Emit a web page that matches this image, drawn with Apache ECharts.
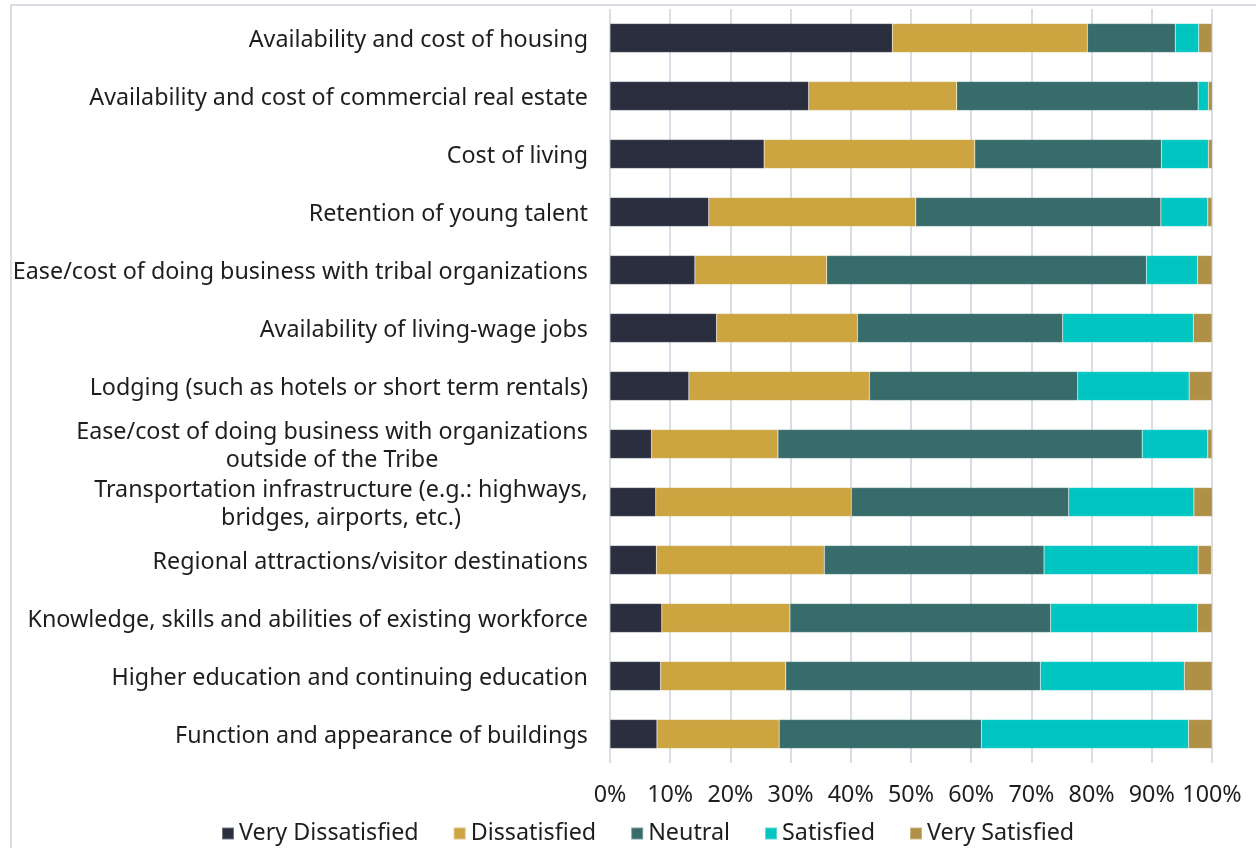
<!DOCTYPE html>
<html>
<head>
<meta charset="utf-8">
<script src="https://cdn.jsdelivr.net/npm/echarts@6/dist/echarts.min.js"></script>
<style>
  html, body { margin: 0; padding: 0; background: #fff; }
  #main { width: 1256px; height: 848px; }
</style>
</head>
<body>
<div id="main"></div>
<script>
// categories, top to bottom
var categories = [
  'Availability and cost of housing',
  'Availability and cost of commercial real estate',
  'Cost of living',
  'Retention of young talent',
  'Ease/cost of doing business with tribal organizations',
  'Availability of living-wage jobs',
  'Lodging (such as hotels or short term rentals)',
  'Ease/cost of doing business with organizations\noutside of the Tribe',
  'Transportation infrastructure (e.g.: highways,\nbridges, airports, etc.)',
  'Regional attractions/visitor destinations',
  'Knowledge, skills and abilities of existing workforce',
  'Higher education and continuing education',
  'Function and appearance of buildings'
]

var veryDissatisfied = [46.9, 33.0, 25.6, 16.4, 14.1, 17.7, 13.1, 6.9, 7.6, 7.7, 8.6, 8.4, 7.8]
var dissatisfied     = [32.4, 24.6, 35.0, 34.4, 21.9, 23.4, 30.0, 21.0, 32.5, 27.9, 21.3, 20.8, 20.3]
var neutral          = [14.6, 40.1, 31.0, 40.7, 53.1, 34.1, 34.6, 60.5, 36.1, 36.5, 43.3, 42.3, 33.6]
var satisfied        = [3.9, 1.7, 7.8, 7.8, 8.5, 21.7, 18.5, 10.9, 20.8, 25.6, 24.4, 23.9, 34.4]
var verySatisfied    = [2.2, 0.7, 0.7, 0.7, 2.4, 3.1, 3.8, 0.7, 3.1, 2.2, 2.4, 4.6, 3.9]

var seriesNames = ['Very Dissatisfied', 'Dissatisfied', 'Neutral', 'Satisfied', 'Very Satisfied']
var seriesData = [veryDissatisfied, dissatisfied, neutral, satisfied, verySatisfied]
var colors = ['#2a2e3f', '#cca540', '#386c6b', '#00c5c0', '#b08f46']

var FONT = '"Noto Sans", sans-serif'
var FONT_SIZE = 23.3
var TEXT = '#1e1e1e'

// wrapped labels: each line centred inside a box as wide as its longest line
var ctx = document.createElement('canvas').getContext('2d')
ctx.font = FONT_SIZE + 'px ' + FONT
var rich = {}
categories.forEach(function (c, i) {
  if (c.indexOf('\n') < 0) return
  var w = Math.max.apply(null, c.split('\n').map(function (l) { return ctx.measureText(l).width }))
  rich['c' + i] = {
    fontFamily: FONT, fontSize: FONT_SIZE, lineHeight: 28, color: TEXT,
    align: 'center', width: Math.ceil(w)
  }
})

var chart = echarts.init(document.getElementById('main'))

var option = {
  animation: false,
  graphic: [
    { type: 'line', shape: { x1: 10, y1: 5, x2: 1256, y2: 5 }, style: { stroke: '#dadce6', lineWidth: 2 } },
    { type: 'line', shape: { x1: 11, y1: 5, x2: 11, y2: 848 }, style: { stroke: '#dadce6', lineWidth: 2 } }
  ],
  grid: {
    left: 610,
    right: 44,
    top: 9,
    bottom: 85
  },
  legend: {
    data: seriesNames,
    left: 216,
    top: 817,
    itemWidth: 12,
    itemHeight: 12,
    itemGap: 34,
    icon: 'rect',
    textStyle: { fontFamily: FONT, fontSize: FONT_SIZE, color: TEXT, padding: [0, 0, 0, 0] }
  },
  xAxis: {
    type: 'value',
    min: 0,
    max: 100,
    interval: 10,
    axisLine: { show: false },
    axisTick: { show: false },
    splitLine: { lineStyle: { color: '#dadce6', width: 2 } },
    axisLabel: {
      formatter: '{value}%',
      margin: 21,
      fontFamily: FONT,
      fontSize: FONT_SIZE,
      color: TEXT
    }
  },
  yAxis: {
    type: 'category',
    inverse: true,
    data: categories,
    axisLine: { show: false },
    axisTick: { show: false },
    axisLabel: {
      margin: 22,
      fontFamily: FONT,
      fontSize: FONT_SIZE,
      lineHeight: 28,
      color: TEXT,
      padding: [4, 0, 0, 0],
      formatter: function (value, index) {
        if (value.indexOf('\n') < 0) return value
        return value.split('\n').map(function (l) { return '{c' + index + '|' + l + '}' }).join('\n')
      },
      rich: rich
    }
  },
  series: seriesNames.map(function (name, i) {
    return {
      name: name,
      type: 'bar',
      stack: 'total',
      barWidth: 29,
      itemStyle: { color: colors[i], borderColor: 'rgba(255,255,255,0.35)', borderWidth: 0.5 },
      data: seriesData[i]
    }
  })
}

chart.setOption(option)
window.addEventListener('resize', function () { chart.resize() })
</script>
</body>
</html>
